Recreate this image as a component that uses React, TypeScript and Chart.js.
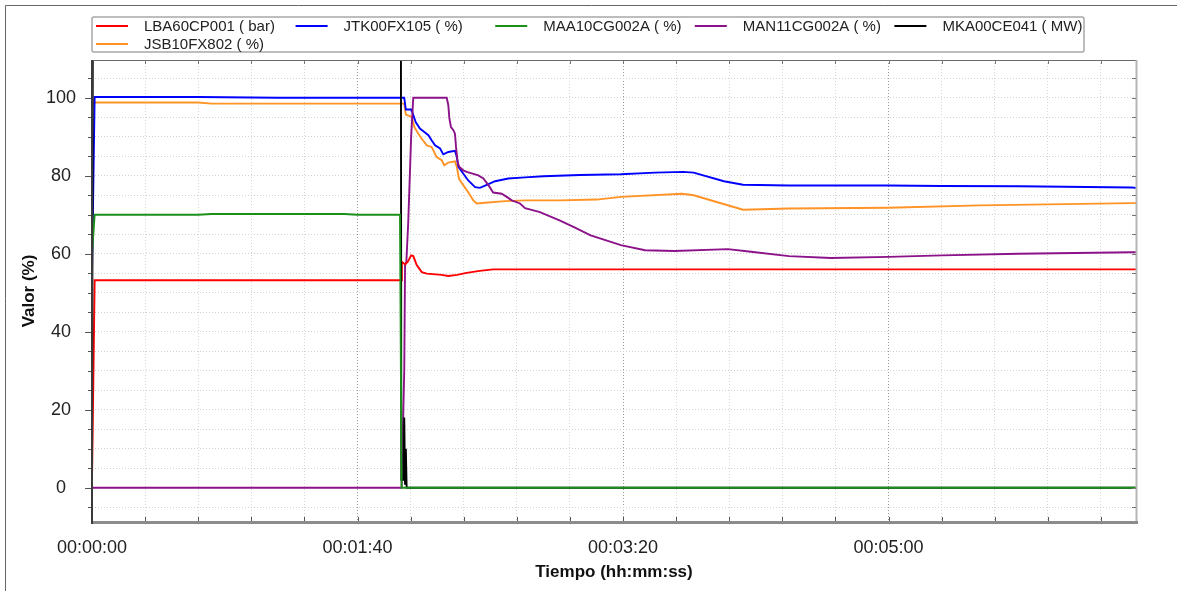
import React, { useEffect, useRef } from "react";
import { Chart, registerables } from "chart.js";

Chart.register(...registerables);

// ---------- data ----------
const seriesNames = [
  "LBA60CP001 ( bar)",
  "JTK00FX105 ( %)",
  "MAA10CG002A ( %)",
  "MAN11CG002A ( %)",
  "MKA00CE041 ( MW)",
  "JSB10FX802 ( %)",
];
const seriesColors = ["#ff0000", "#0000ff", "#1a901a", "#8b1289", "#000000", "#ff9326"];
// lower = drawn on top
const seriesOrder = [2, 4, 0, 3, 1, 5];

// time in seconds
const lbaTimes = [0, 1, 116.4, 116.7, 117.9, 118.9, 120.2, 121.0, 122.3, 124.2, 126.1, 131.7, 134.2, 137.5, 141.1, 146.0, 151.0, 393.2];
const lbaValues = [2, 53.2, 53.2, 57.9, 57.3, 57.9, 59.6, 59.4, 57.1, 55.3, 54.9, 54.6, 54.3, 54.6, 55.1, 55.6, 56.0, 56.0];

const jtkTimes = [0, 1, 40, 70, 116.4, 117.6, 118.2, 120.2, 120.6, 121.9, 123.5, 125.4, 126.7, 127.9, 129.2, 131.1, 132.3, 134.2, 136.7, 137.4, 138.0, 139.8, 141.7, 144.3, 146.1, 148.7, 151.8, 156.8, 163.1, 170, 183.8, 199.2, 212, 222.6, 226.6, 238.0, 245.2, 262.5, 300, 320, 349, 391.7, 393.2];
const jtkValues = [55, 100.2, 100.2, 100, 100, 100, 97, 97, 96.4, 93.8, 92.1, 91.1, 90.4, 89.1, 87.8, 87, 85.5, 86.1, 86.4, 84.8, 82.3, 80.6, 78.8, 77.1, 76.9, 77.7, 78.6, 79.3, 79.6, 79.9, 80.2, 80.4, 80.8, 81, 80.8, 78.6, 77.7, 77.5, 77.5, 77.4, 77.3, 77, 76.9];

const maaTimes = [0, 1, 40, 45, 95, 100, 116.0, 116.6, 393.2];
const maaValues = [60, 70, 70, 70.2, 70.2, 70, 70, 0, 0];

const manTimes = [0, 116.6, 117.6, 117.9, 118.4, 119.1, 120.2, 121.0, 133.6, 134.2, 134.6, 135.2, 136.1, 136.7, 137.1, 137.7, 138.3, 139.8, 141.1, 143.0, 145.5, 147.4, 149.3, 151.1, 154.3, 156.2, 158.1, 161.2, 163.1, 168.7, 176.3, 181.9, 187.8, 199.2, 208.3, 219.4, 239.5, 248.2, 262.5, 278.3, 300, 320.2, 348.8, 391.7, 393.2];
const manValues = [0, 0, 30, 57, 58, 68, 90, 100, 100, 98.1, 94.7, 92.5, 91.7, 90.8, 87.4, 83.5, 82.3, 81.4, 81, 80.6, 80.1, 79.3, 77.6, 75.7, 75.4, 74.6, 73.7, 72.9, 71.7, 70.7, 68.5, 66.7, 64.7, 62.2, 60.9, 60.7, 61.2, 60.5, 59.4, 58.9, 59.2, 59.6, 60, 60.4, 60.4];

const mkaTimes = [0, 1, 116.0, 116.5, 117.3, 117.6, 117.9, 118.2, 118.5, 393.2];
const mkaValues = [0, 380, 380, 2, 2, 18, 1, 10, 0, 0];

const jsbTimes = [0, 1, 40, 45, 116.4, 117.6, 118.2, 120.4, 121.4, 122.9, 124.2, 126.1, 127.9, 129.8, 131.7, 132.7, 134.2, 136.7, 137.4, 138.2, 139.8, 141.7, 143.6, 144.9, 148.0, 155.6, 163.1, 176.3, 190.1, 199.2, 222.2, 226.6, 245.2, 262.5, 300, 334.5, 391.7, 393.2];
const jsbValues = [98, 98.8, 98.8, 98.5, 98.5, 98.5, 95.7, 95.1, 92.5, 90.8, 89.5, 87.8, 87.4, 84.8, 84, 82.7, 83.4, 83.7, 82.3, 79.3, 77.6, 75.8, 73.7, 72.9, 73.1, 73.5, 73.7, 73.7, 73.9, 74.6, 75.4, 75, 71.3, 71.6, 71.8, 72.4, 73, 73];

const seriesTimes = [lbaTimes, jtkTimes, maaTimes, manTimes, mkaTimes, jsbTimes];
const seriesValues = [lbaValues, jtkValues, maaValues, manValues, mkaValues, jsbValues];

const xMin = 0;
const xMax = 393.2;
const xMinorStep = 20;
const xMajorStep = 100;
const yMin = -8.8;
const yMax = 109.7;
const yMinorStep = 5;
const yMajorStep = 20;

const xTitle = "Tiempo (hh:mm:ss)";
const yTitle = "Valor (%)";

// ---------- helpers ----------
const pad2 = (n: number) => String(n).padStart(2, "0");
function fmtTime(s: number): string {
  const h = Math.floor(s / 3600);
  const m = Math.floor((s % 3600) / 60);
  const sec = Math.round(s % 60);
  return `${pad2(h)}:${pad2(m)}:${pad2(sec)}`;
}
const isMult = (v: number, step: number) => Math.abs(v / step - Math.round(v / step)) < 1e-6;

const FONT = "'Liberation Sans', Arial, sans-serif";

const framePlugin = {
  id: "frameDeco",
  afterDatasetsDraw(chart: any) {
    const { ctx, chartArea: a, scales } = chart;
    const x = scales.x;
    const y = scales.y;
    ctx.save();
    const line = (x1: number, y1: number, x2: number, y2: number, c: string, w: number) => {
      ctx.beginPath();
      ctx.strokeStyle = c;
      ctx.lineWidth = w;
      ctx.moveTo(x1, y1);
      ctx.lineTo(x2, y2);
      ctx.stroke();
    };
    // top border
    line(a.left, a.top + 0.5, a.right, a.top + 0.5, "#6a6a6a", 1);
    // right border
    line(a.right + 0.5, a.top, a.right + 0.5, a.bottom, "#b5b5b5", 2);
    // y ticks (left outside, right inside)
    for (const t of y.ticks) {
      const py = Math.round(y.getPixelForValue(t.value)) + 0.5;
      const len = isMult(t.value, yMajorStep) ? 7 : 4;
      line(a.left - len, py, a.left, py, "#555", 1);
      line(a.right - 4, py, a.right, py, "#777", 1);
    }
    // x ticks (inside top and bottom)
    for (const t of x.ticks) {
      const px = Math.round(x.getPixelForValue(t.value)) + 0.5;
      line(px, a.bottom - 5, px, a.bottom, "#555", 1);
      line(px, a.top, px, a.top + 4, "#777", 1);
    }
    // bottom thick
    ctx.fillStyle = "#8c8c8c";
    ctx.fillRect(a.left, a.bottom - 1, a.right - a.left + 2, 3);
    // left axis
    ctx.fillStyle = "#3a3a3a";
    ctx.fillRect(a.left - 1, a.top, 2, a.bottom - a.top + 2);
    ctx.restore();
  },
  afterDraw(chart: any) {
    const { ctx } = chart;
    ctx.save();
    // outer frame
    ctx.strokeStyle = "#666";
    ctx.lineWidth = 1;
    ctx.beginPath();
    ctx.moveTo(5.5, chart.height);
    ctx.lineTo(5.5, 5.5);
    ctx.lineTo(chart.width, 5.5);
    ctx.stroke();
    // legend box
    ctx.strokeStyle = "#a8a8a8";
    ctx.lineWidth = 1.5;
    ctx.beginPath();
    if ((ctx as any).roundRect) (ctx as any).roundRect(92, 17, 992, 35, 2);
    else ctx.rect(92, 17, 992, 35);
    ctx.stroke();
    // legend items
    ctx.font = `15px ${FONT}`;
    ctx.textBaseline = "middle";
    ctx.textAlign = "left";
    chart.data.datasets.forEach((ds: any, i: number) => {
      const col = i % 5;
      const row = Math.floor(i / 5);
      const x0 = 96 + col * 199.6;
      const yc = 26 + row * 18;
      ctx.strokeStyle = ds.borderColor;
      ctx.lineWidth = 2;
      ctx.beginPath();
      ctx.moveTo(x0, yc);
      ctx.lineTo(x0 + 32, yc);
      ctx.stroke();
      ctx.fillStyle = "#222";
      ctx.fillText(ds.label, x0 + 48, yc + 0.5);
    });
    ctx.restore();
  },
};

export default function App() {
  const canvasRef = useRef<HTMLCanvasElement | null>(null);

  useEffect(() => {
    const canvas = canvasRef.current;
    if (!canvas) return;
    const datasets = seriesNames.map((name, i) => ({
      label: name,
      data: seriesTimes[i].map((t, k) => ({ x: t, y: seriesValues[i][k] })),
      borderColor: seriesColors[i],
      backgroundColor: seriesColors[i],
      borderWidth: 1.9,
      pointRadius: 0,
      tension: 0,
      fill: false,
      order: seriesOrder[i],
    }));

    const chart = new Chart(canvas, {
      type: "line",
      data: { datasets },
      plugins: [framePlugin],
      options: {
        animation: false,
        responsive: false,
        devicePixelRatio: 1,
        layout: { padding: { left: 0, top: 60, right: 41, bottom: 0 } },
        plugins: { legend: { display: false }, tooltip: { enabled: false } },
        scales: {
          x: {
            type: "linear",
            min: xMin,
            max: xMax,
            afterFit: (s: any) => {
              s.height = 69;
            },
            border: { display: false, dash: [1, 2] },
            grid: {
              drawTicks: false,
              color: (c: any) => (c.tick && isMult(c.tick.value, xMajorStep) ? "#9a9a9a" : "#d6d6d6"),
              lineWidth: 1,
            },
            ticks: {
              stepSize: xMinorStep,
              includeBounds: false,
              autoSkip: false,
              maxRotation: 0,
              padding: 15,
              color: "#222",
              font: { family: FONT, size: 18 },
              callback: (v: any) => (isMult(Number(v), xMajorStep) ? fmtTime(Number(v)) : ""),
            },
            title: {
              display: true,
              text: xTitle,
              color: "#111",
              font: { family: FONT, size: 17, weight: "bold" },
              padding: { top: 0, bottom: 8 },
            },
          },
          y: {
            type: "linear",
            min: yMin,
            max: yMax,
            afterFit: (s: any) => {
              s.width = 92;
            },
            border: { display: false, dash: [1, 2] },
            grid: {
              drawTicks: false,
              color: "#d2d2d2",
              lineWidth: 1,
            },
            ticks: {
              stepSize: yMinorStep,
              includeBounds: false,
              autoSkip: false,
              crossAlign: "center",
              padding: 16,
              color: "#222",
              font: { family: FONT, size: 18 },
              callback: (v: any) => (isMult(Number(v), yMajorStep) ? String(v) : ""),
            },
            title: {
              display: true,
              text: yTitle,
              color: "#111",
              font: { family: FONT, size: 17, weight: "bold" },
              padding: { top: 19, bottom: 0 },
            },
          },
        },
      } as any,
    });
    return () => chart.destroy();
  }, []);

  return (
    <div style={{ position: "fixed", left: 0, top: 0, width: 1177, height: 591, background: "#fff" }}>
      <canvas ref={canvasRef} width={1177} height={591} style={{ width: 1177, height: 591, display: "block" }} />
    </div>
  );
}
